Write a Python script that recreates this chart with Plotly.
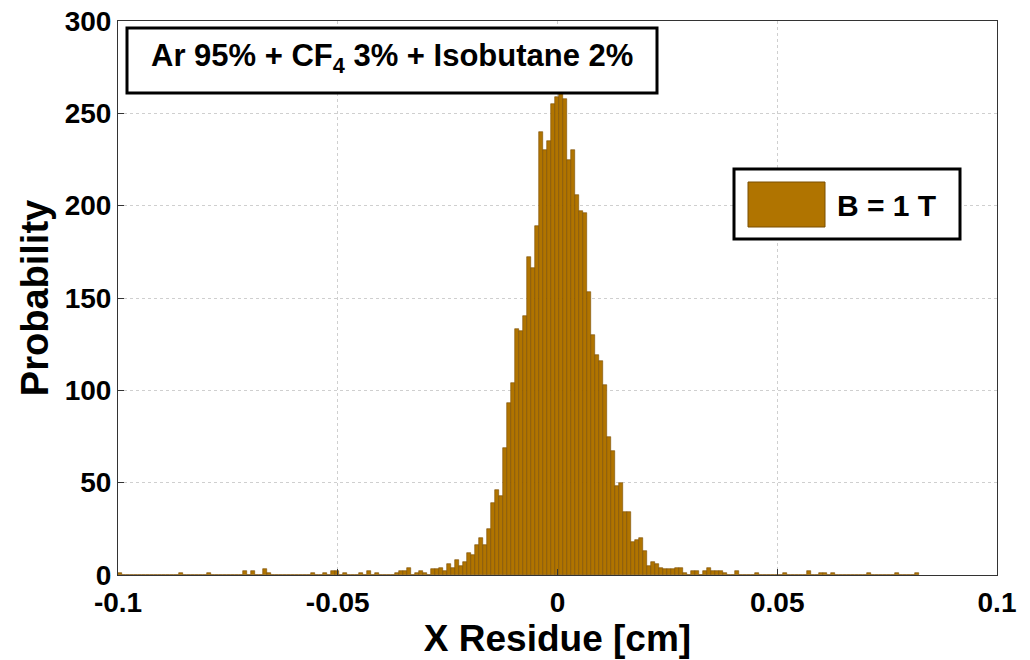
import plotly.graph_objects as go

# ---- data (counts per bin, 200 bins) ----
bin_start = -0.0999
bin_width = 0.000911
counts = [
    1, 0, 0, 0, 0, 0, 0, 0, 0, 0, 0, 0, 0, 0, 0, 1, 0, 0, 0, 0,
    0, 0, 1, 0, 0, 0, 0, 0, 0, 0, 0, 2, 0, 2, 0, 0, 3, 1, 0, 0,
    0, 0, 0, 0, 0, 0, 0, 0, 1, 0, 0, 1, 0, 2, 2, 0, 1, 0, 0, 0,
    1, 0, 2, 0, 1, 0, 0, 0, 0, 1, 2, 2, 4, 0, 1, 2, 1, 0, 3, 3,
    4, 2, 6, 4, 8, 5, 7, 12, 11, 16, 20, 16, 25, 39, 46, 43, 69, 93, 104, 133,
    132, 140, 172, 166, 189, 240, 230, 235, 255, 259, 268, 258, 225, 230, 206, 197, 196, 153, 130, 119,
    116, 103, 75, 67, 48, 50, 34, 34, 18, 19, 20, 13, 5, 7, 6, 4, 3, 3, 3, 4,
    4, 1, 0, 2, 2, 0, 2, 4, 2, 2, 2, 1, 0, 0, 2, 0, 0, 0, 0, 1,
    0, 0, 0, 0, 0, 0, 1, 0, 0, 0, 0, 0, 2, 0, 0, 1, 1, 0, 1, 0,
    0, 0, 0, 0, 0, 0, 0, 1, 0, 0, 0, 0, 0, 0, 1, 0, 0, 0, 0, 1,
]
bin_centers = [bin_start + (i + 0.5) * bin_width for i in range(len(counts))]

x_ticks = [-0.1, -0.05, 0, 0.05, 0.1]
x_tick_labels = ["-0.1", "-0.05", "0", "0.05", "0.1"]
y_ticks = [0, 50, 100, 150, 200, 250, 300]

title_text = "Ar 95% + CF<sub>4</sub> 3% + Isobutane 2%"
legend_text = "B = 1 T"
x_label = "X Residue [cm]"
y_label = "Probability"

bar_color = "#B07400"
edge_color = "#7A4E00"
FONT = "Liberation Sans, Arial, sans-serif"

fig = go.Figure()
fig.add_trace(go.Bar(
    x=bin_centers, y=counts, width=bin_width,
    marker=dict(color=bar_color, line=dict(color=edge_color, width=0.6)),
    showlegend=False,
))

# page body has an 8px margin, so the figure is drawn 8px right/down
OFF = 8
W, H = 1030 - OFF, 660 - OFF
L, R, T, B = 118 - OFF, 33, 21 - OFF, 85
pw, ph = W - L - R, H - T - B

def px_x(p):
    return (p - OFF - L) / pw

def px_y(p):
    return 1 - (p - OFF - T) / ph

fig.update_layout(
    width=W, height=H,
    margin=dict(l=L, r=R, t=T, b=B),
    paper_bgcolor="white", plot_bgcolor="white",
    bargap=0,
    font=dict(family=FONT, color="black"),
    xaxis=dict(
        range=[-0.1, 0.1], tickvals=x_ticks, ticktext=x_tick_labels,
        tickfont=dict(size=28, family=FONT, weight="bold"),
        ticklabelstandoff=2, ticklabeloverflow="allow",
        showgrid=True, gridcolor="#cfcfcf", griddash="dot", gridwidth=1,
        showline=True, linecolor="#333", linewidth=1, mirror=True,
        ticks="inside", ticklen=6, tickcolor="#333",
        zeroline=False, automargin=False,
        title=dict(text=x_label, font=dict(size=37, family=FONT, weight="bold"), standoff=0),
    ),
    yaxis=dict(
        range=[0, 300], tickvals=y_ticks,
        tickfont=dict(size=28, family=FONT, weight="bold"),
        ticklabeloverflow="allow",
        showgrid=True, gridcolor="#cfcfcf", griddash="dot", gridwidth=1,
        showline=True, linecolor="#333", linewidth=1, mirror=True,
        ticks="inside", ticklen=6, tickcolor="#333",
        zeroline=False, automargin=False,
        title=dict(text=y_label, font=dict(size=38, family=FONT, weight="bold"), standoff=4),
    ),
)

# title box
fig.add_shape(type="rect", xref="paper", yref="paper",
              x0=px_x(127), x1=px_x(657), y0=px_y(93), y1=px_y(28),
              line=dict(color="black", width=3), fillcolor="white", layer="above")
fig.add_annotation(xref="paper", yref="paper", x=px_x(392), y=px_y(58),
                   text="<b>" + title_text + "</b>", showarrow=False,
                   font=dict(size=31, family=FONT, color="black"),
                   xanchor="center", yanchor="middle")

# legend box
fig.add_shape(type="rect", xref="paper", yref="paper",
              x0=px_x(734), x1=px_x(960), y0=px_y(239), y1=px_y(169),
              line=dict(color="black", width=3), fillcolor="white", layer="above")
fig.add_shape(type="rect", xref="paper", yref="paper",
              x0=px_x(748), x1=px_x(825), y0=px_y(227), y1=px_y(182),
              line=dict(color=edge_color, width=1), fillcolor=bar_color, layer="above")
fig.add_annotation(xref="paper", yref="paper", x=px_x(835), y=px_y(205),
                   text="<b>" + legend_text + "</b>", showarrow=False,
                   font=dict(size=30, family=FONT, color="black"),
                   xanchor="left", yanchor="middle")

fig.write_html("out.html")
